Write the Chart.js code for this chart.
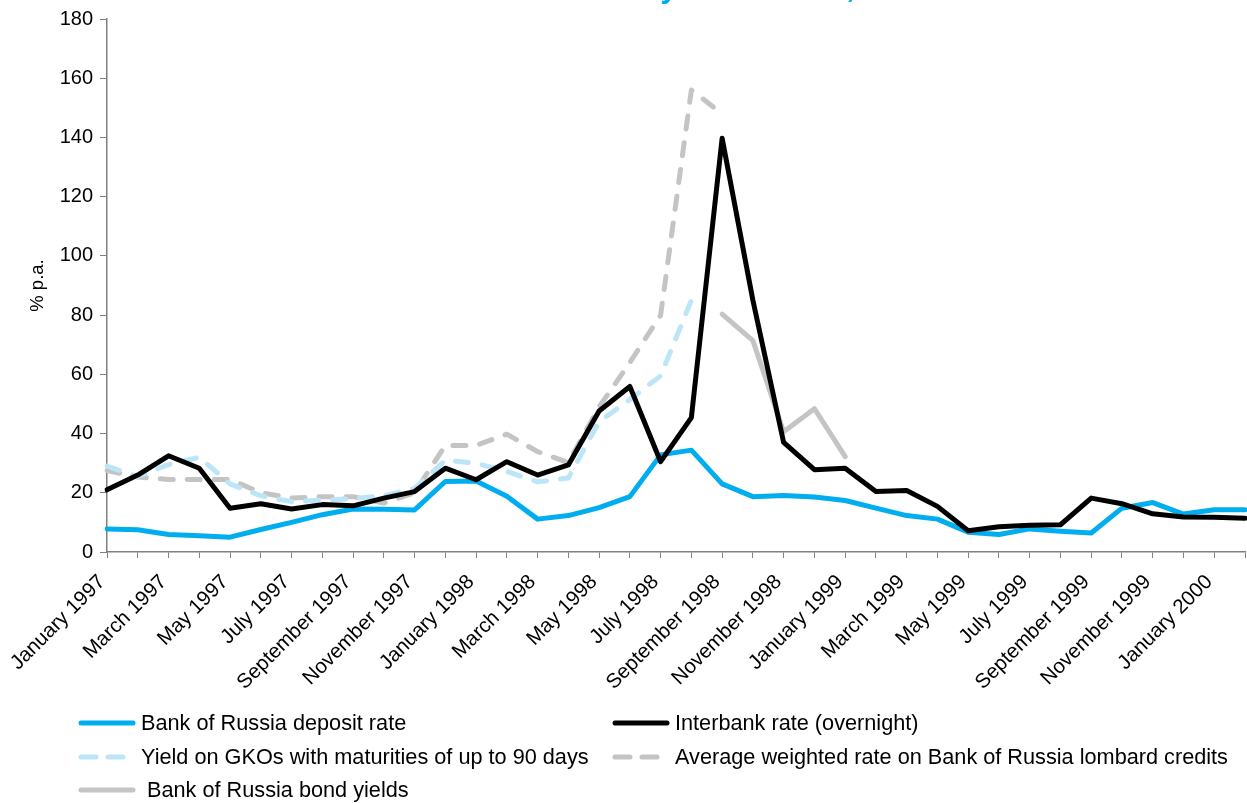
<!DOCTYPE html>
<html>
<head>
<meta charset="utf-8">
<script src="https://cdn.jsdelivr.net/npm/chart.js@4.4.1/dist/chart.umd.min.js"></script>
<style>
  html, body { margin: 0; padding: 0; background: #ffffff; }
  #wrap { position: relative; width: 1247px; height: 803px; overflow: hidden;
          font-family: "Liberation Sans", Arial, sans-serif; }
  #c { position: absolute; left: 0; top: 0; }
  #title { position: absolute; left: 438px; top: -29px; white-space: nowrap;
           font: bold 31px/31px "Liberation Sans", Arial, sans-serif; color: #00AEEF; }
  #legend { position: absolute; left: 0; top: 0; width: 1247px; height: 803px; pointer-events: none; }
  .item { position: absolute; display: flex; align-items: center; height: 30px;
          font-size: 21.7px; color: #000; white-space: pre; }
  .item svg { margin-right: 5px; }
</style>
</head>
<body>
<div id="wrap">
  <canvas id="c" width="1247" height="803"></canvas>
  <div id="title">Interest rates by instrument, 1997–2000</div>
  <div id="legend"></div>
</div>
<script>
// Monthly observations, January 1997 – February 2000
const months = [
  'January 1997', 'February 1997', 'March 1997', 'April 1997', 'May 1997', 'June 1997',
  'July 1997', 'August 1997', 'September 1997', 'October 1997', 'November 1997', 'December 1997',
  'January 1998', 'February 1998', 'March 1998', 'April 1998', 'May 1998', 'June 1998',
  'July 1998', 'August 1998', 'September 1998', 'October 1998', 'November 1998', 'December 1998',
  'January 1999', 'February 1999', 'March 1999', 'April 1999', 'May 1999', 'June 1999',
  'July 1999', 'August 1999', 'September 1999', 'October 1999', 'November 1999', 'December 1999',
  'January 2000', 'February 2000'
];

const depositRate = [
  7.8, 7.5, 5.9, 5.5, 5.0, 7.6, 10.0, 12.6, 14.5, 14.4, 14.2, 23.8,
  24.0, 18.8, 11.1, 12.3, 15.0, 18.7, 32.8, 34.4, 23.0, 18.7, 19.1, 18.6,
  17.4, 14.8, 12.3, 11.1, 6.7, 5.9, 7.8, 7.0, 6.4, 14.8, 16.7, 12.8,
  14.3, 14.3
];

const interbankRate = [
  21.0, 26.0, 32.5, 28.3, 14.8, 16.3, 14.5, 16.0, 15.6, 18.2, 20.4, 28.3,
  24.4, 30.5, 26.0, 29.4, 47.6, 55.9, 30.5, 45.4, 139.7, 85.0, 37.0, 27.8,
  28.3, 20.4, 20.8, 15.4, 7.2, 8.5, 9.0, 9.2, 18.2, 16.3, 12.9, 11.8,
  11.7, 11.4
];

const gkoYield = [
  29.0, 25.5, 29.5, 32.0, 23.0, 19.0, 17.0, 17.5, 18.0, 19.0, 21.5, 31.0,
  30.0, 27.2, 23.7, 25.0, 44.0, 51.5, 59.5, 85.0, null, null, null, null,
  null, null, null, null, null, null, null, null, null, null, null, null,
  null, null
];

const lombardRate = [
  27.5, 25.3, 24.5, 24.5, 24.5, 20.0, 18.2, 18.7, 18.7, 16.5, 20.0, 36.0,
  36.0, 39.8, 33.9, 30.2, 49.0, 64.0, 80.0, 156.0, 148.0, null, null, null,
  null, null, null, null, null, null, null, null, null, null, null, null,
  null, null
];

const bondYield = [
  null, null, null, null, null, null, null, null, null, null, null, null,
  null, null, null, null, null, null, null, null, 80.3, 71.4, 40.6, 48.4,
  32.2, null, null, null, null, null, null, null, null, null, null, null,
  null, null
];

const yTicks = { min: 0, max: 180, step: 20 };

const FONT = '"Liberation Sans", Arial, sans-serif';
const AXIS = '#808080';

const chart = new Chart(document.getElementById('c').getContext('2d'), {
  type: 'line',
  data: {
    labels: months,
    datasets: [
      { label: 'Bank of Russia deposit rate', data: depositRate,
        borderColor: '#00AEEF', borderWidth: 5, order: 2 },
      { label: 'Interbank rate (overnight)', data: interbankRate,
        borderColor: '#000000', borderWidth: 5, order: 1 },
      { label: 'Yield on GKOs with maturities of up to 90 days', data: gkoYield,
        borderColor: '#BDE5F8', borderWidth: 5, borderDash: [13, 14], order: 4 },
      { label: 'Average weighted rate on Bank of Russia lombard credits', data: lombardRate,
        borderColor: '#C4C4C4', borderWidth: 5, borderDash: [13, 14], order: 5 },
      { label: ' Bank of Russia bond yields', data: bondYield,
        borderColor: '#C4C4C4', borderWidth: 5, order: 3 }
    ]
  },
  options: {
    responsive: false,
    animation: false,
    devicePixelRatio: 1,
    layout: { padding: { left: 0, right: 2, top: 17, bottom: 0 } },
    elements: {
      point: { radius: 0, hoverRadius: 0 },
      line: { tension: 0, fill: false, borderJoinStyle: 'round', borderCapStyle: 'round' }
    },
    plugins: { legend: { display: false }, tooltip: { enabled: false } },
    scales: {
      x: {
        offset: false,
        grid: { display: true, drawOnChartArea: false, drawTicks: true, tickLength: 6, color: AXIS, lineWidth: 1 },
        border: { display: true, color: AXIS, width: 1.5 },
        ticks: {
          autoSkip: false, maxRotation: 45, minRotation: 45, padding: 12, labelOffset: -5,
          color: '#000', font: { family: FONT, size: 20.5 },
          callback: (v, i) => (i % 2 === 0 ? months[i] : '')
        },
        afterFit: s => { s.height = 251; s.paddingLeft = 0; s.paddingRight = 0; }
      },
      y: {
        min: yTicks.min, max: yTicks.max,
        grid: { display: true, drawOnChartArea: false, drawTicks: true, tickLength: 7, color: AXIS, lineWidth: 1 },
        border: { display: true, color: AXIS, width: 1.5 },
        ticks: { stepSize: yTicks.step, padding: 7, color: '#000', font: { family: FONT, size: 20 } },
        title: { display: true, text: '% p.a.', color: '#000', font: { family: FONT, size: 18.5 },
                 padding: { top: 27, bottom: 0 } },
        afterFit: s => { s.width = 107; }
      }
    }
  }
});

// Two-column legend under the plot, built from the chart's datasets
const slots = [
  { x: 78, y: 708 }, { x: 612, y: 708 },
  { x: 78, y: 742 }, { x: 612, y: 742 },
  { x: 78, y: 775 }
];
const legend = document.getElementById('legend');
chart.data.datasets.forEach((ds, i) => {
  const el = document.createElement('div');
  el.className = 'item';
  el.style.left = slots[i].x + 'px';
  el.style.top = slots[i].y + 'px';
  const dash = ds.borderDash ? 'stroke-dasharray="15 12"' : '';
  el.innerHTML =
    '<svg width="58" height="10"><line x1="3" y1="5" x2="55" y2="5" stroke="' + ds.borderColor +
    '" stroke-width="5" stroke-linecap="round" ' + dash + '/></svg>';
  const span = document.createElement('span');
  span.textContent = ds.label;
  el.appendChild(span);
  legend.appendChild(el);
});
</script>
</body>
</html>
